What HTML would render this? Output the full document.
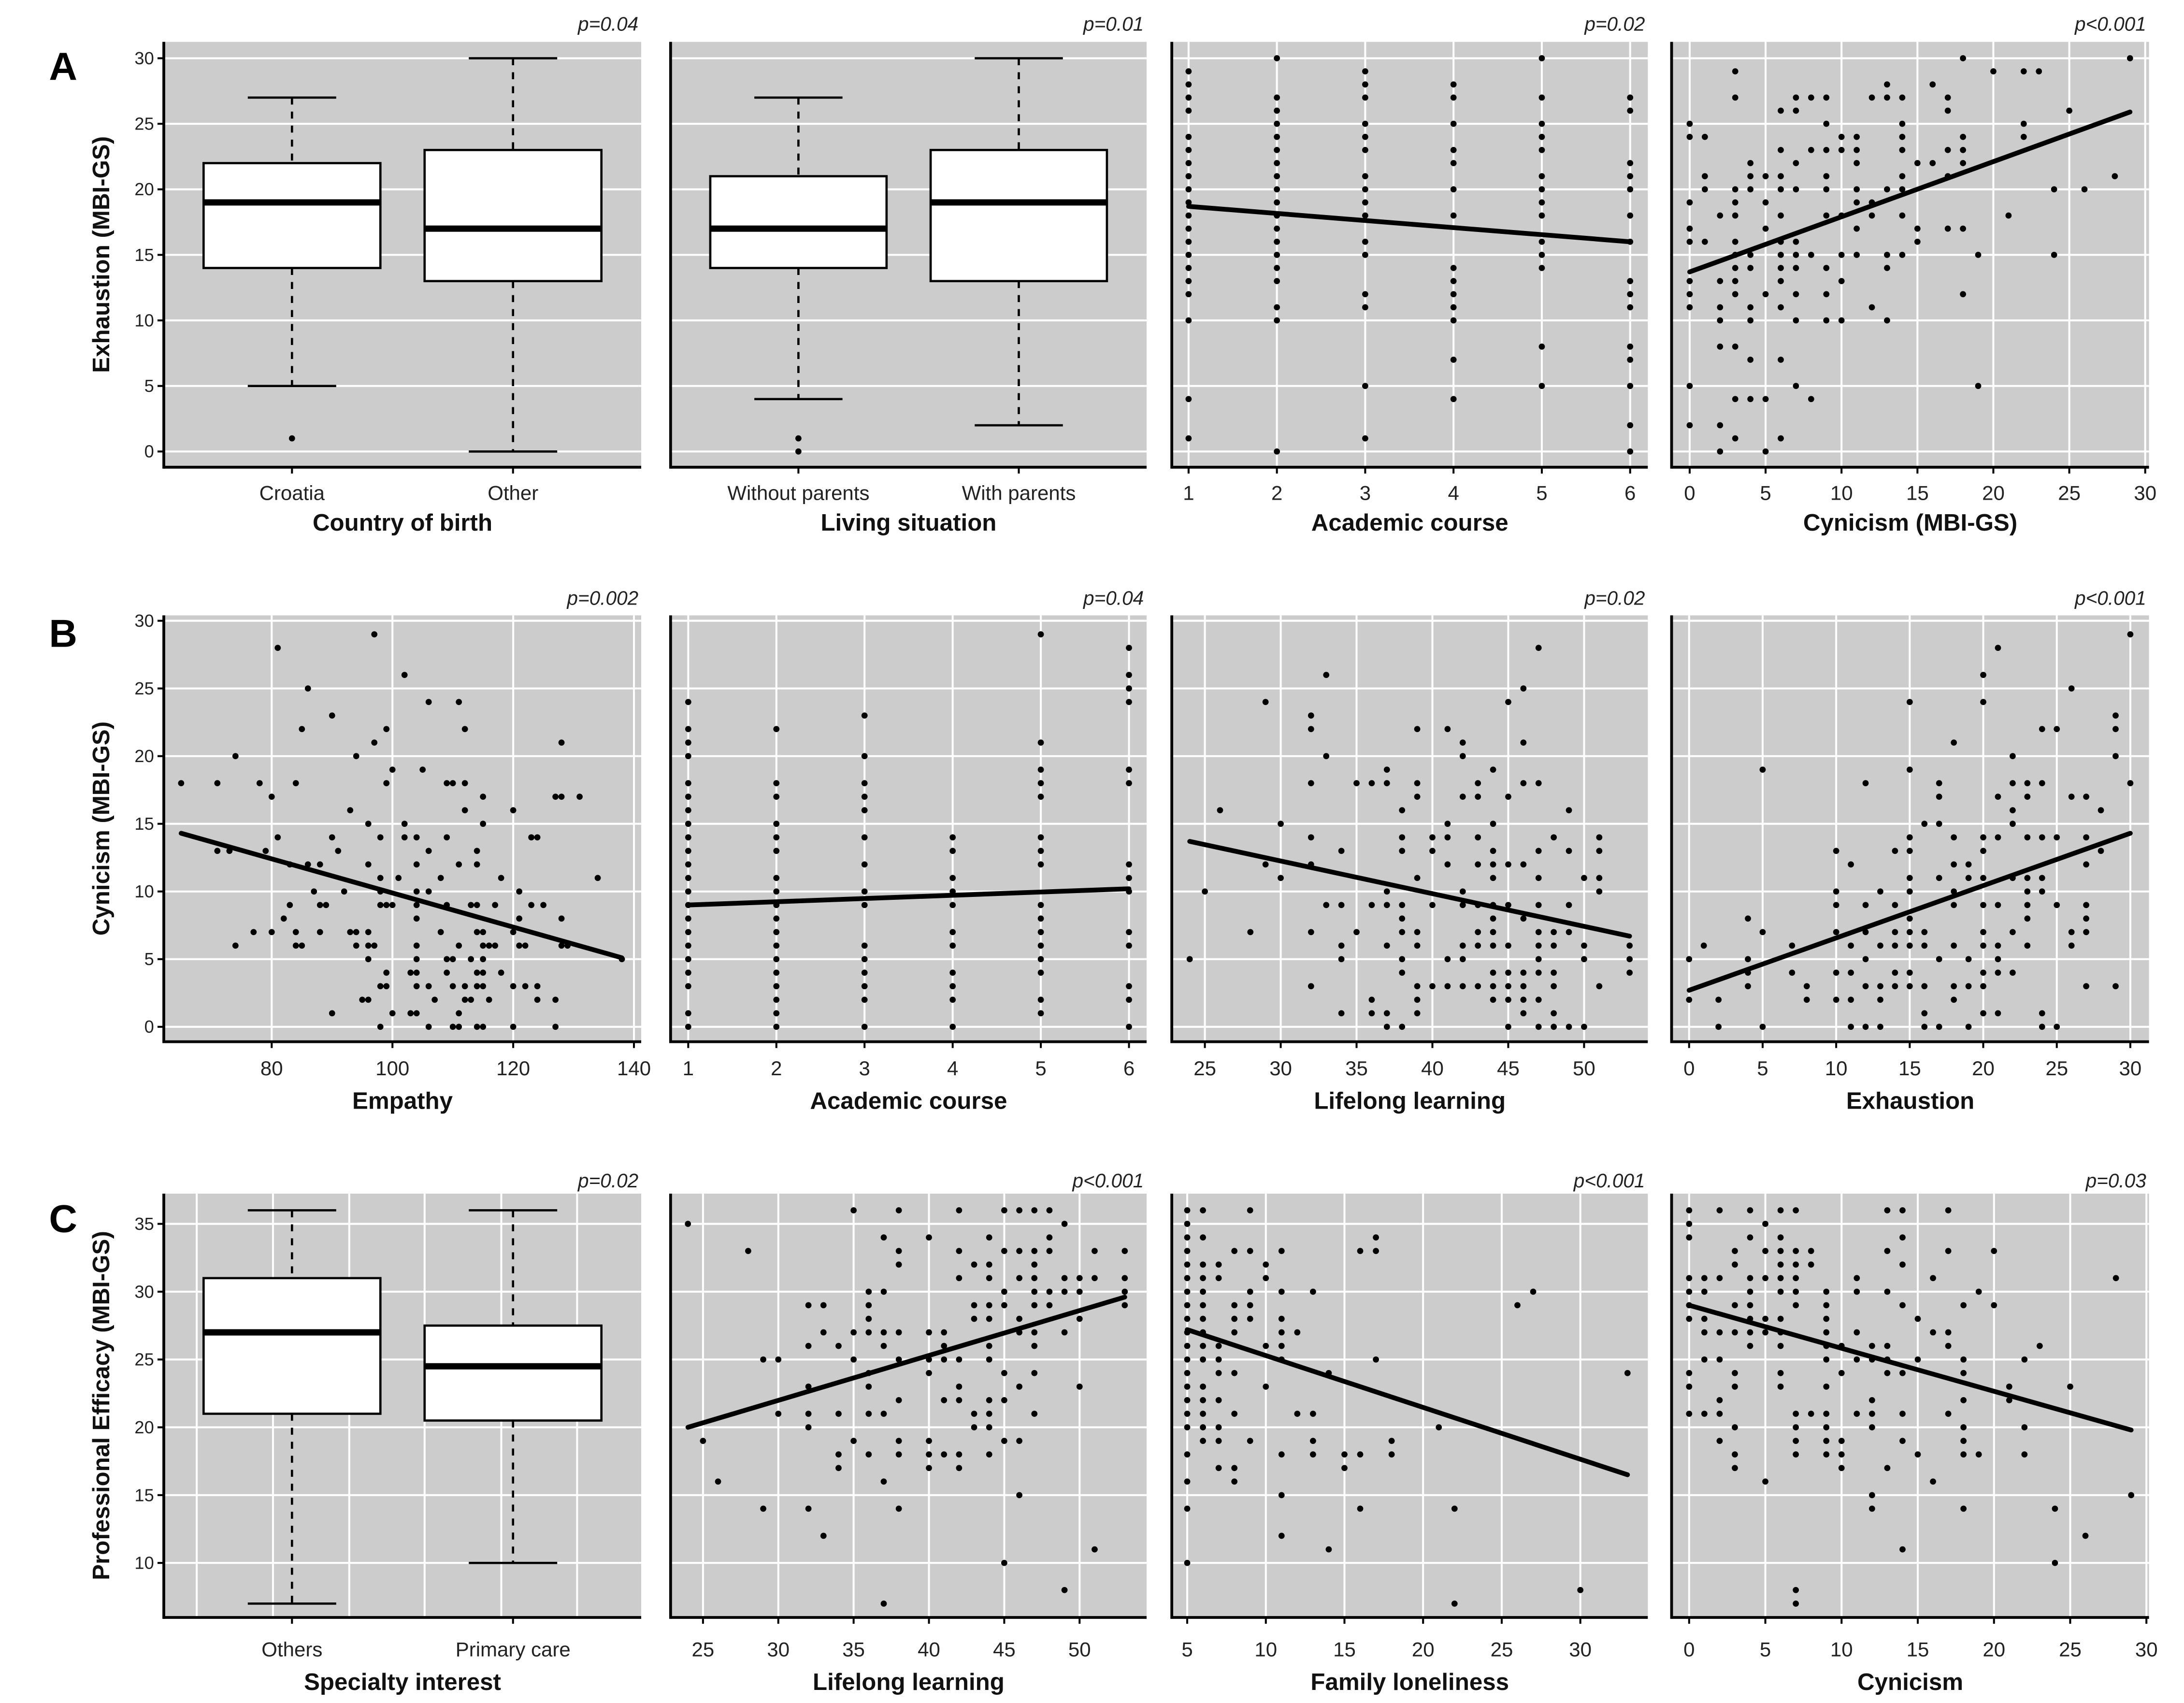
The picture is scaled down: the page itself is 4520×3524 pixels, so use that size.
<!DOCTYPE html>
<html><head><meta charset="utf-8"><style>
html,body{margin:0;padding:0;background:#fff;}
svg{display:block;}
text{font-family:"Liberation Sans",Arial,sans-serif;}
</style></head><body>
<svg id="fig" xmlns="http://www.w3.org/2000/svg" width="4520" height="3524" viewBox="0 0 1560 1216.3" preserveAspectRatio="none"></svg>
<script>
// ---------- DATA ----------
const ticksRowA = [0,5,10,15,20,25,30];
const ticksRowB = [0,5,10,15,20,25,30];
const ticksRowC = [10,15,20,25,30,35];
const ticksCourse = [1,2,3,4,5,6];
const ticks0to30 = [0,5,10,15,20,25,30];
const ticksEmpathy = [80,100,120,140];
const ticksLifelong = [25,30,35,40,45,50];
const ticksLoneliness = [5,10,15,20,25,30];
const c1VGrid = [0.569,0.914,1.259,1.60,1.947,2.29];

// Box plots: categories, whisker low, q1, median, q3, whisker high, outliers
const a1Cats = ["Croatia","Other"];
const a1Low = [5,0], a1Q1 = [14,13], a1Med = [19,17], a1Q3 = [22,23], a1High = [27,30];
const a1Out = [[1],[]];
const a2Cats = ["Without parents","With parents"];
const a2Low = [4,2], a2Q1 = [14,13], a2Med = [17,19], a2Q3 = [21,23], a2High = [27,30];
const a2Out = [[1,0],[]];
const c1Cats = ["Others","Primary care"];
const c1Low = [7,10], c1Q1 = [21,20.5], c1Med = [27,24.5], c1Q3 = [31,27.5], c1High = [36,36];
const c1Out = [[],[]];

const a3Cols = [
 [1,[29,28,27,26,24,23,22,21,20,19,18,17,16,15,14,13,12,10,4,1]],
 [2,[30,27,26,25,24,23,22,21,20,19,18,17,16,15,14,13,11,10,0]],
 [3,[29,28,27,25,24,23,21,20,19,18,16,15,12,11,5,1]],
 [4,[28,27,25,23,22,20,18,14,13,12,11,10,7,4]],
 [5,[30,27,25,24,23,21,20,19,18,16,15,14,8,5]],
 [6,[27,26,22,21,20,18,16,13,12,11,8,7,5,2,0]]];
const a3LineX = [1,6], a3LineY = [18.7,16.0];

const a4Rows = [
 [30,[18,29]],[29,[3,20,22,23]],[28,[13,16]],[27,[3,7,8,9,12,13,14,17]],[26,[6,7,17,25]],
 [25,[0,9,14,22]],[24,[0,1,10,11,14,18,22]],[23,[6,8,9,10,11,14,17,18]],[22,[4,7,11,15,16,18]],
 [21,[1,4,5,6,9,14,17,28]],[20,[1,3,4,6,7,9,11,13,14,24,26]],[19,[0,3,5,11,12]],
 [18,[2,3,6,9,10,12,14,21]],[17,[0,5,11,15,17,18]],[16,[0,1,3,6,7,15]],
 [15,[3,4,6,7,8,10,11,13,14,19,24]],[14,[3,4,6,7,9,13]],[13,[0,2,3,6,10]],[12,[0,3,5,7,9,18]],
 [11,[0,2,4,6,12]],[10,[2,4,7,9,10,13]],[8,[2,3]],[7,[4,6]],[5,[0,7,19]],[4,[3,4,5,8]],
 [2,[0,2]],[1,[3,6]],[0,[2,5]]];
const a4LineX = [0,29], a4LineY = [13.7,25.9];

const b1Rows = [
 [29,[97]],[28,[81]],[26,[102]],[25,[86]],[24,[106,111]],[23,[90]],[22,[85,99,112]],[21,[97,128]],
 [20,[74,94]],[19,[100,105]],[18,[65,71,78,84,99,109,110,112]],[17,[80,115,127,128,131]],
 [16,[93,112,120]],[15,[96,102,115]],[14,[81,90,98,102,104,109,123,124]],
 [13,[71,73,79,91,106,114]],[12,[83,86,88,96,104,111,114]],[11,[98,101,108,118,134]],
 [10,[87,92,98,104,106,121]],[9,[83,88,89,98,99,100,104,109,113,114,117,123,125]],
 [8,[82,104,121,128]],[7,[77,80,84,88,93,94,96,108,114,115,120]],
 [6,[74,84,85,94,96,97,104,111,115,116,117,121,122,128,129]],[5,[96,104,109,110,113,115,138]],
 [4,[99,103,104,109,114,115,118]],[3,[98,99,104,106,110,112,114,115,120,122,124]],
 [2,[95,96,107,112,113,116,124,127]],[1,[90,100,103,104,111]],[0,[98,106,110,111,114,115,120,127]]];
const b1LineX = [65,138], b1LineY = [14.3,5.1];

const b2Cols = [
 [1,[24,22,21,20,18,17,16,15,14,13,12,11,10,9,8,7,6,5,4,3,1,0]],
 [2,[22,18,17,15,14,13,11,10,9,8,7,6,5,4,3,2,1,0]],
 [3,[23,20,18,17,16,14,12,10,9,6,5,4,3,2,0]],
 [4,[14,13,11,10,9,7,6,4,3,2,0]],
 [5,[29,21,19,18,17,14,13,12,9,8,7,6,5,4,2,1]],
 [6,[28,26,25,24,19,18,12,11,10,7,6,3,2,0]]];
const b2LineX = [1,6], b2LineY = [9.0,10.2];

const b3Rows = [
 [28,[47]],[26,[33]],[25,[46]],[24,[29,45]],[23,[32]],[22,[32,39,41]],[21,[42,46]],[20,[33,42]],
 [19,[37,44]],[18,[32,35,36,37,39,43,46,47]],[17,[39,42,43,45]],[16,[26,38,49]],[15,[30,41,44]],
 [14,[32,38,40,41,43,48,51]],[13,[34,38,40,44,47,49,51]],[12,[29,32,41,43,44,45,46]],
 [11,[30,39,44,47,50,51]],[10,[25,37,42,51]],[9,[33,34,36,37,38,40,42,43,44,45,47,49]],
 [8,[38,44,46]],[7,[28,32,35,38,39,43,44,47,48,49]],[6,[34,37,39,42,43,44,45,47,48,50,53]],
 [5,[24,34,38,41,42,47,50,53]],[4,[38,44,45,46,47,48,53]],[3,[32,39,40,41,42,43,44,45,46,48,51]],
 [2,[36,39,44,45,46,47]],[1,[34,36,37,39,46,48]],[0,[37,38,45,47,48,49,50]]];
const b3LineX = [24,53], b3LineY = [13.7,6.7];

const b4Rows = [
 [29,[30]],[28,[21]],[26,[20]],[25,[26]],[24,[15,20]],[23,[29]],[22,[24,25,29]],[21,[18]],
 [20,[22,29]],[19,[5,15]],[18,[12,17,22,23,24,30]],[17,[17,21,23,26,27]],[16,[22,28]],
 [15,[16,17,22]],[14,[15,18,20,21,23,24,25,27]],[13,[10,14,15,20,28]],[12,[11,18,19,27]],
 [11,[15,17,19,20,22,23,24]],[10,[10,13,15,18,23,24]],[9,[10,12,14,18,20,21,23,25,27]],
 [8,[4,15,23,27]],[7,[5,10,12,14,15,16,20,22,26,27]],[6,[1,7,11,13,14,15,16,18,20,21,23,26]],
 [5,[0,4,12,17,19,21]],[4,[4,7,10,11,14,15,20,21,22]],[3,[4,8,12,13,14,15,16,18,19,20,27,29]],
 [2,[0,2,8,10,11,13,18]],[1,[16,20,21,24]],[0,[2,5,11,12,13,16,17,19,24,25]]];
const b4LineX = [0,30], b4LineY = [2.7,14.3];

const c2Rows = [
 [36,[35,38,42,45,46,47,48]],[35,[24,49]],[34,[37,40,44,48]],[33,[28,38,42,45,46,47,48,51,53]],
 [32,[38,43,44,47]],[31,[42,44,46,47,49,50,51,53]],[30,[36,37,45,47,48,49,50,53]],
 [29,[32,33,36,43,44,45,47,48,53]],[28,[36,43,44,46,50]],[27,[33,35,36,37,38,40,41,46,47,49]],
 [26,[32,34,37,41,44,47]],[25,[29,30,35,38,40,41,42,44]],[24,[36,40,45,47]],[23,[32,36,42,46,50]],
 [22,[38,41,42,44,45]],[21,[30,32,34,36,37,43,44,47]],[20,[32,43,44]],[19,[25,35,38,40,45,46]],
 [18,[34,36,38,40,41,42,44]],[17,[34,40,42]],[16,[26,37]],[15,[46]],[14,[29,32,38]],
 [12,[33]],[11,[51]],[10,[45]],[8,[49]],[7,[37]]];
const c2LineX = [24,53], c2LineY = [20.0,29.6];

const c3Rows = [
 [36,[5,6,9]],[35,[5]],[34,[5,6,17]],[33,[5,8,9,11,16,17]],[32,[5,6,7,10]],[31,[5,6,7,10]],
 [30,[5,6,9,11,13,27]],[29,[5,6,8,9,26]],[28,[5,6,8,9,11]],[27,[5,6,8,11,12]],[26,[5,6,7,10,11]],
 [25,[5,6,7,11,17]],[24,[5,7,8,14,33]],[23,[5,6,10]],[22,[5,6,7]],[21,[5,6,8,12,13]],
 [20,[5,6,7,21]],[19,[6,7,9,13,18]],[18,[5,11,13,15,16,18]],[17,[7,8,15]],[16,[5,8]],
 [15,[11]],[14,[5,16,22]],[12,[11]],[11,[14]],[10,[5]],[8,[30]],[7,[22]]];
const c3LineX = [5,33], c3LineY = [27.2,16.5];

const c4Rows = [
 [36,[0,2,4,6,7,13,14,17]],[35,[0,5]],[34,[0,4,6,14]],[33,[3,5,6,7,8,13,17,20]],[32,[3,6,7,8,14]],
 [31,[0,1,2,4,5,6,7,11,16,28]],[30,[0,1,4,6,7,9,11,13,19]],[29,[0,3,4,7,9,14,18,20]],
 [28,[0,1,4,5,6,9,15]],[27,[1,2,3,4,5,6,9,11,16,17]],[26,[4,6,9,10,12,13,17,23]],
 [25,[1,2,9,11,12,13,15,18,22]],[24,[0,3,6,10,13,14,18]],[23,[0,3,6,9,21,25]],[22,[2,12,18,21]],
 [21,[0,1,2,7,8,9,11,12,14,17]],[20,[3,7,9,12,18,22]],[19,[2,7,9,10,14,18]],
 [18,[3,7,9,10,15,18,19,22]],[17,[3,10,13]],[16,[5,16]],[15,[12,29]],[14,[12,18,24]],
 [12,[26]],[11,[14]],[10,[24]],[8,[7]],[7,[7]]];
const c4LineX = [0,29], c4LineY = [29.0,19.8];

// ---------- LAYOUT ----------
const NS = 'http://www.w3.org/2000/svg';
const svg = document.getElementById('fig');
const COLS = [[117,458],[479,819],[837,1177],[1194,1535]];
const ROWS = {A:{y0:29.9,y1:333.7,yd:[-1.2,31.25],ticks:ticksRowA,tickY:357,titleY:379,pY:22,letterY:57},
              B:{y0:439.5,y1:744,yd:[-1.1,30.4],ticks:ticksRowB,tickY:768,titleY:792,pY:432,letterY:462},
              C:{y0:852.5,y1:1155.2,yd:[5.98,37.23],ticks:ticksRowC,tickY:1183,titleY:1207,pY:848,letterY:880}};

function mk(tag, attrs, parent){
  const e = document.createElementNS(NS, tag);
  for (const k in attrs) e.setAttribute(k, attrs[k]);
  (parent||svg).appendChild(e);
  return e;
}

function panel(id, row, col, xd, xticks, xlabels, title, pval, type, vgrid){
  const R = ROWS[row], C = COLS[col];
  const g = mk('g', {});
  
  
  const sx = v => C[0] + (v - xd[0]) / (xd[1] - xd[0]) * (C[1] - C[0]);
  const sy = v => R.y1 - (v - R.yd[0]) / (R.yd[1] - R.yd[0]) * (R.y1 - R.y0);
  const bg = mk('rect', {x:C[0], y:R.y0, width:C[1]-C[0], height:R.y1-R.y0, fill:'#cccccc'}, g);
  
  
  R.ticks.forEach(t => {
    const l = mk('line', {x1:C[0], x2:C[1], y1:sy(t), y2:sy(t), stroke:'#fff', 'stroke-width':1.4}, g);
    
    
  });
  const vg = type === 'scatter' ? xticks : (vgrid || []);
  vg.forEach(t => {
    const l = mk('line', {x1:sx(t), x2:sx(t), y1:R.y0, y2:R.y1, stroke:'#fff', 'stroke-width':1.4}, g);
    
    
  });
  const ax = mk('line', {x1:C[0], x2:C[1], y1:R.y1, y2:R.y1, stroke:'#000', 'stroke-width':2}, g);
  
  
  const ay = mk('line', {x1:C[0], x2:C[0], y1:R.y0, y2:R.y1+1, stroke:'#000', 'stroke-width':2}, g);
  
  
  xticks.forEach((t,i) => {
    const tk = mk('line', {x1:sx(t), x2:sx(t), y1:R.y1, y2:R.y1+4.5, stroke:'#000', 'stroke-width':1.4}, g);
    
    
    const tx = mk('text', {x:sx(t), y:R.tickY, 'text-anchor':'middle', 'font-size':14.5, fill:'#222'}, g);
    tx.textContent = xlabels[i];
    
    
  });
  if (col === 0) {
    R.ticks.forEach(t => {
      const tk = mk('line', {x1:C[0]-4.5, x2:C[0], y1:sy(t), y2:sy(t), stroke:'#000', 'stroke-width':1.4}, g);
      
      
      const tx = mk('text', {x:C[0]-7, y:sy(t)+4.3, 'text-anchor':'end', 'font-size':12.5, fill:'#222'}, g);
      tx.textContent = String(t);
      
      
    });
  }
  const ti = mk('text', {x:(C[0]+C[1])/2, y:R.titleY, 'text-anchor':'middle', 'font-size':17, 'font-weight':'bold', fill:'#111'}, g);
  ti.textContent = title;
  
  
  const pv = mk('text', {x:C[1]-2, y:R.pY, 'text-anchor':'end', 'font-size':14, 'font-style':'italic', fill:'#222'}, g);
  pv.textContent = pval;
  
  
  return {g, sx, sy};
}

function drawBox(p, low, q1, med, q3, high, outs){
  const {g, sx, sy} = p;
  for (let i = 0; i < low.length; i++) {
    const cx = sx(i+1), hw = 0.4*(sx(2)-sx(1)), cw = 0.2*(sx(2)-sx(1));
    const w1 = mk('line', {x1:cx, x2:cx, y1:sy(high[i]), y2:sy(q3[i]), stroke:'#000', 'stroke-width':1.6, 'stroke-dasharray':'5,5'}, g);
    
    
    const w2 = mk('line', {x1:cx, x2:cx, y1:sy(q1[i]), y2:sy(low[i]), stroke:'#000', 'stroke-width':1.6, 'stroke-dasharray':'5,5'}, g);
    
    
    const c1 = mk('line', {x1:cx-cw, x2:cx+cw, y1:sy(high[i]), y2:sy(high[i]), stroke:'#000', 'stroke-width':1.6}, g);
    
    
    const c2 = mk('line', {x1:cx-cw, x2:cx+cw, y1:sy(low[i]), y2:sy(low[i]), stroke:'#000', 'stroke-width':1.6}, g);
    
    
    const b = mk('rect', {x:cx-hw, y:sy(q3[i]), width:2*hw, height:sy(q1[i])-sy(q3[i]), fill:'#fff', stroke:'#000', 'stroke-width':1.6}, g);
    
    
    const m = mk('line', {x1:cx-hw, x2:cx+hw, y1:sy(med[i]), y2:sy(med[i]), stroke:'#000', 'stroke-width':4.5}, g);
    
    
    outs[i].forEach(v => {
      const o = mk('circle', {cx:cx, cy:sy(v), r:2.2, fill:'#000'}, g);
      
      
    });
  }
}

function drawPoints(p, groups, byX, lx, ly){
  const {g, sx, sy} = p;
  groups.forEach(gr => {
    gr[1].forEach(v => {
      const x = byX ? gr[0] : v, y = byX ? v : gr[0];
      const c = mk('circle', {cx:sx(x), cy:sy(y), r:2.2, fill:'#000'}, g);
      
      
    });
  });
  const l = mk('line', {x1:sx(lx[0]), y1:sy(ly[0]), x2:sx(lx[1]), y2:sy(ly[1]), stroke:'#000', 'stroke-width':3.4, 'stroke-linecap':'round'}, g);
  
  
}

const n = a => a.map(String);
drawBox(panel('a1','A',0,[0.42,2.58],[1,2],a1Cats,'Country of birth','p=0.04','box'), a1Low,a1Q1,a1Med,a1Q3,a1High,a1Out);
drawBox(panel('a2','A',1,[0.42,2.58],[1,2],a2Cats,'Living situation','p=0.01','box'), a2Low,a2Q1,a2Med,a2Q3,a2High,a2Out);
drawPoints(panel('a3','A',2,[0.81,6.2],ticksCourse,n(ticksCourse),'Academic course','p=0.02','scatter'), a3Cols, true, a3LineX, a3LineY);
drawPoints(panel('a4','A',3,[-1.19,30.25],ticks0to30,n(ticks0to30),'Cynicism (MBI-GS)','p<0.001','scatter'), a4Rows, false, a4LineX, a4LineY);
drawPoints(panel('b1','B',0,[62.13,141.2],ticksEmpathy,n(ticksEmpathy),'Empathy','p=0.002','scatter'), b1Rows, false, b1LineX, b1LineY);
drawPoints(panel('b2','B',1,[0.8,6.2],ticksCourse,n(ticksCourse),'Academic course','p=0.04','scatter'), b2Cols, true, b2LineX, b2LineY);
drawPoints(panel('b3','B',2,[22.82,54.2],ticksLifelong,n(ticksLifelong),'Lifelong learning','p=0.02','scatter'), b3Rows, false, b3LineX, b3LineY);
drawPoints(panel('b4','B',3,[-1.19,31.27],ticks0to30,n(ticks0to30),'Exhaustion','p<0.001','scatter'), b4Rows, false, b4LineX, b4LineY);
drawBox(panel('c1','C',0,[0.42,2.58],[1,2],c1Cats,'Specialty interest','p=0.02','box',c1VGrid), c1Low,c1Q1,c1Med,c1Q3,c1High,c1Out);
drawPoints(panel('c2','C',1,[22.85,54.45],ticksLifelong,n(ticksLifelong),'Lifelong learning','p<0.001','scatter'), c2Rows, false, c2LineX, c2LineY);
drawPoints(panel('c3','C',2,[4.02,34.29],ticksLoneliness,n(ticksLoneliness),'Family loneliness','p<0.001','scatter'), c3Rows, false, c3LineX, c3LineY);
drawPoints(panel('c4','C',3,[-1.15,30.17],ticks0to30,n(ticks0to30),'Cynicism','p=0.03','scatter'), c4Rows, false, c4LineX, c4LineY);

[['A','A','Exhaustion (MBI-GS)'],['B','B','Cynicism (MBI-GS)'],['C','C','Professional Efficacy (MBI-GS)']].forEach(r => {
  const R = ROWS[r[0]];
  const L = mk('text', {x:35, y:R.letterY, 'font-size':28, 'font-weight':'bold', fill:'#000'});
  L.textContent = r[1];
  
  
  const cy = (R.y0 + R.y1) / 2;
  const T = mk('text', {x:78, y:cy, 'text-anchor':'middle', 'font-size':17, 'font-weight':'bold', fill:'#111', transform:'rotate(-90 78 ' + cy + ')'});
  T.textContent = r[2];
  
  
});
</script>
</body></html>
